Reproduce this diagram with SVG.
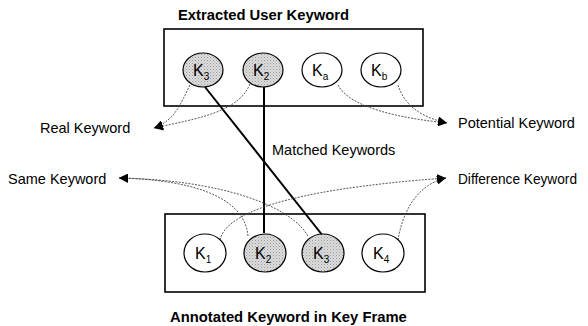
<svg xmlns="http://www.w3.org/2000/svg" width="588" height="326" viewBox="0 0 588 326">
<defs>
<marker id="ah" viewBox="0 0 10 10" refX="10" refY="5" markerWidth="9" markerHeight="9" markerUnits="userSpaceOnUse" orient="auto">
<path d="M0,0 L10,5 L0,10 z" fill="#000"/>
</marker>
<pattern id="dots" width="3" height="3" patternUnits="userSpaceOnUse">
<rect width="3" height="3" fill="#dcdcdc"/>
<rect x="0" y="0" width="1" height="1" fill="#9a9a9a"/>
<rect x="1.5" y="1.5" width="1" height="1" fill="#b0b0b0"/>
</pattern>
</defs>
<style>
.box{fill:#fff;stroke:#000;stroke-width:1.6}
.node{stroke:#000;stroke-width:1.2}
.plain{fill:#fff}
.hit{fill:url(#dots)}
.k{font-family:"Liberation Sans",Arial,sans-serif;font-size:16px;fill:#000}
.sub{font-size:10px}
.title{font-family:"Liberation Sans",Arial,sans-serif;font-size:14.8px;font-weight:bold;fill:#000}
.lbl{font-family:"Liberation Sans",Arial,sans-serif;font-size:14.5px;fill:#000}
.dot{fill:none;stroke:#444;stroke-width:0.9;stroke-dasharray:2 1.3}
.solid{fill:none;stroke:#000;stroke-width:2}
</style>
<rect width="588" height="326" fill="#fff"/>
<text class="title" x="178" y="20">Extracted User Keyword</text>
<rect class="box" x="164" y="29" width="259" height="77"/>
<text class="title" x="170" y="322">Annotated Keyword in Key Frame</text>
<rect class="box" x="165" y="214" width="260" height="78"/>

<g id="connectors">
<line class="solid" x1="205" y1="87" x2="323" y2="236"/>
<line class="solid" x1="264" y1="87" x2="264" y2="233"/>
<path class="dot" d="M190,85 C180,105 175,120 154,128" marker-end="url(#ah)"/>
<path class="dot" d="M250,84 C238,112 200,118 154,128" marker-end="url(#ah)"/>
<path class="dot" d="M338,85 C350,108 400,118 447,123" marker-end="url(#ah)"/>
<path class="dot" d="M398,85 C405,108 425,118 447,123" marker-end="url(#ah)"/>
<path class="dot" d="M248,236 C245,200 200,180 119,178" marker-end="url(#ah)"/>
<path class="dot" d="M308,236 C290,205 220,180 119,178" marker-end="url(#ah)"/>
<path class="dot" d="M220,240 C225,215 280,190 446,178" marker-end="url(#ah)"/>
<path class="dot" d="M398,240 C402,215 415,185 446,178" marker-end="url(#ah)"/>
</g>

<g id="u-k3"><ellipse class="node hit" cx="203" cy="70" rx="20" ry="17"/><text class="k" x="193" y="76">K<tspan class="sub" dy="4">3</tspan></text></g>
<g id="u-k2"><ellipse class="node hit" cx="263" cy="70" rx="20" ry="17"/><text class="k" x="253" y="76">K<tspan class="sub" dy="4">2</tspan></text></g>
<g id="u-ka"><ellipse class="node plain" cx="322" cy="70" rx="20" ry="17"/><text class="k" x="312" y="76">K<tspan class="sub" dy="4">a</tspan></text></g>
<g id="u-kb"><ellipse class="node plain" cx="381" cy="70" rx="20" ry="17"/><text class="k" x="371" y="76">K<tspan class="sub" dy="4">b</tspan></text></g>

<g id="a-k1"><ellipse class="node plain" cx="205" cy="253" rx="21" ry="19"/><text class="k" x="195" y="259">K<tspan class="sub" dy="4">1</tspan></text></g>
<g id="a-k2"><ellipse class="node hit" cx="265" cy="253" rx="21" ry="19"/><text class="k" x="255" y="259">K<tspan class="sub" dy="4">2</tspan></text></g>
<g id="a-k3"><ellipse class="node hit" cx="323" cy="253" rx="21" ry="19"/><text class="k" x="313" y="259">K<tspan class="sub" dy="4">3</tspan></text></g>
<g id="a-k4"><ellipse class="node plain" cx="383" cy="253" rx="21" ry="19"/><text class="k" x="373" y="259">K<tspan class="sub" dy="4">4</tspan></text></g>

<text class="lbl" x="40" y="133">Real Keyword</text>
<text class="lbl" x="458" y="128">Potential Keyword</text>
<text class="lbl" x="272" y="155">Matched Keywords</text>
<text class="lbl" x="8" y="184">Same Keyword</text>
<text class="lbl" x="458" y="184" textLength="119" lengthAdjust="spacingAndGlyphs">Difference Keyword</text>
</svg>
